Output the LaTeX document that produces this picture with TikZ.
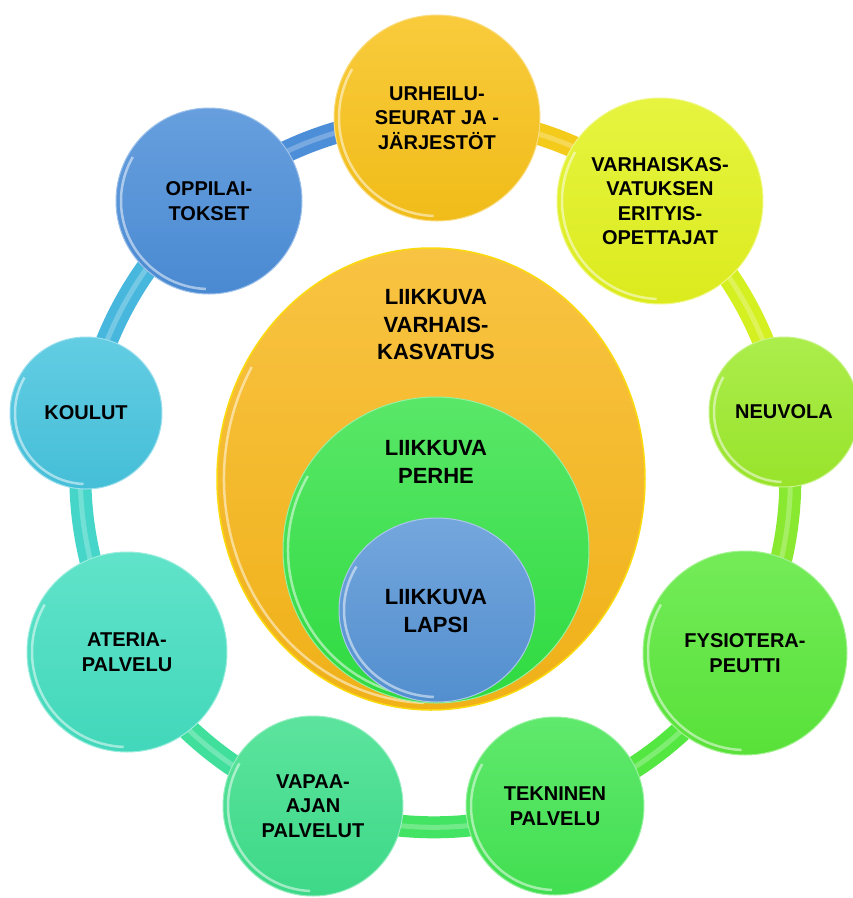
\documentclass[tikz,border=0pt]{standalone}
\usepackage{fontspec}
\setmainfont{Liberation Sans}
\usetikzlibrary{shapes.geometric}
\pgfdeclarelayer{paper}
\pgfdeclarelayer{ringlayer}
\pgfsetlayers{paper,ringlayer,main}

% palette of the outer ring
\definecolor{cUrh}{HTML}{F8C21A}
\definecolor{cVar}{HTML}{E2F21E}
\definecolor{cNeu}{HTML}{9DEA2C}
\definecolor{cFys}{HTML}{5BE83B}
\definecolor{cTek}{HTML}{44E553}
\definecolor{cVap}{HTML}{3FDF8C}
\definecolor{cAte}{HTML}{44DEC0}
\definecolor{cKou}{HTML}{47C4DE}
\definecolor{cOpp}{HTML}{4C8ED8}
% palette of the nested centre
\definecolor{cOrg}{HTML}{F7B619}
\definecolor{cGrn}{HTML}{30E142}
\definecolor{cBlu}{HTML}{5593D5}

\tikzset{
  lbl/.style={align=center, text=black, font=\bfseries\fontsize{20}{24.5}\selectfont},
  ctext/.style={align=center, text=black, font=\bfseries\fontsize{22}{27.5}\selectfont},
  tube/.style={line width=22pt, line cap=round},
  tubeshine/.style={line width=5pt, white, opacity=.25, line cap=round},
  shine/.style={white, opacity=.5, line width=2.5pt},
}

% \bubble{name}{x}{y}{radius}{colour}{text}
\newcommand\bubble[6]{%
  \node[circle, inner sep=0pt, minimum size={2*#4pt}, top color=#5!85!white,
        bottom color=#5!97!black, draw=#5!55!white, line width=1pt, lbl]
        (#1) at (#2,#3) {#6};
  \pgfmathsetmacro\hr{#4-5}
  \draw[shine] ([shift={(150:\hr pt)}]#1.center) arc[start angle=150, end angle=268, radius=\hr pt];
}

\begin{document}
\begin{tikzpicture}[x=1pt, y=1pt]
  \useasboundingbox (0,0) rectangle (853,-898);
  \begin{pgfonlayer}{paper}
    \fill[white] (0,0) rectangle (853,-898);
  \end{pgfonlayer}

  % outer ring of partners
  \bubble{urh}{437}{-118}{103}{cUrh}{URHEILU-\\SEURAT JA -\\JÄRJESTÖT}
  \bubble{var}{660}{-201}{103}{cVar}{VARHAISKAS-\\VATUKSEN\\ERITYIS-\\OPETTAJAT}
  \bubble{neu}{784}{-412}{75}{cNeu}{NEUVOLA}
  \bubble{fys}{745}{-653}{102}{cFys}{FYSIOTERA-\\PEUTTI}
  \bubble{tek}{555}{-806}{89}{cTek}{TEKNINEN\\PALVELU}
  \bubble{vap}{313}{-806}{90}{cVap}{VAPAA-\\AJAN\\PALVELUT}
  \bubble{ate}{127}{-652}{100}{cAte}{ATERIA-\\PALVELU}
  \bubble{kou}{86}{-413}{76}{cKou}{KOULUT}
  \bubble{opp}{209}{-201}{93}{cOpp}{OPPILAI-\\TOKSET}

  % connecting tube behind the ring
  \begin{pgfonlayer}{ringlayer}
    \foreach \a/\b/\c in {urh/var/cUrh!80!cVar, var/neu/cVar!80!cNeu,
                          neu/fys/cNeu!70!cFys, fys/tek/cFys!70!cTek,
                          tek/vap/cTek!70!cVap, vap/ate/cVap!70!cAte,
                          ate/kou/cAte!70!cKou, kou/opp/cKou!75!cOpp,
                          opp/urh/cOpp}
    {
      \draw[tube, \c] (\a.center) to[bend left=20, looseness=.88] (\b.center);
      \draw[tubeshine] (\a.center) to[bend left=20, looseness=.88] (\b.center);
    }
  \end{pgfonlayer}

  % nested centre
  \node[ellipse, inner sep=0pt, minimum width=428pt, minimum height=462pt,
        top color=cOrg!82!white, bottom color=cOrg!97!black,
        draw=cOrg!50!yellow, line width=1.5pt] (vk) at (431,-479) {};
  \draw[shine] ([shift={(150:207pt and 224pt)}]vk.center)
        arc[start angle=150, end angle=268, x radius=207pt, y radius=224pt];
  \node[circle, inner sep=0pt, minimum size=306pt,
        top color=cGrn!80!white, bottom color=cGrn!97!black,
        draw=cGrn!50!white, line width=1pt] (ph) at (436,-550) {};
  \draw[shine] ([shift={(150:148pt)}]ph.center) arc[start angle=150, end angle=268, radius=148pt];
  \node[ellipse, inner sep=0pt, minimum width=196pt, minimum height=184pt,
        top color=cBlu!82!white, bottom color=cBlu!97!black,
        draw=cBlu!50!white, line width=1pt] (la) at (437,-610) {};
  \draw[shine] ([shift={(150:93pt and 87pt)}]la.center)
        arc[start angle=150, end angle=268, x radius=93pt, y radius=87pt];

  \node[ctext] (tvk) at (436,-325) {LIIKKUVA\\VARHAIS-\\KASVATUS};
  \node[ctext] (tph) at (436,-462) {LIIKKUVA\\PERHE};
  \node[ctext] (tla) at (436,-611) {LIIKKUVA\\LAPSI};
\end{tikzpicture}
\end{document}
